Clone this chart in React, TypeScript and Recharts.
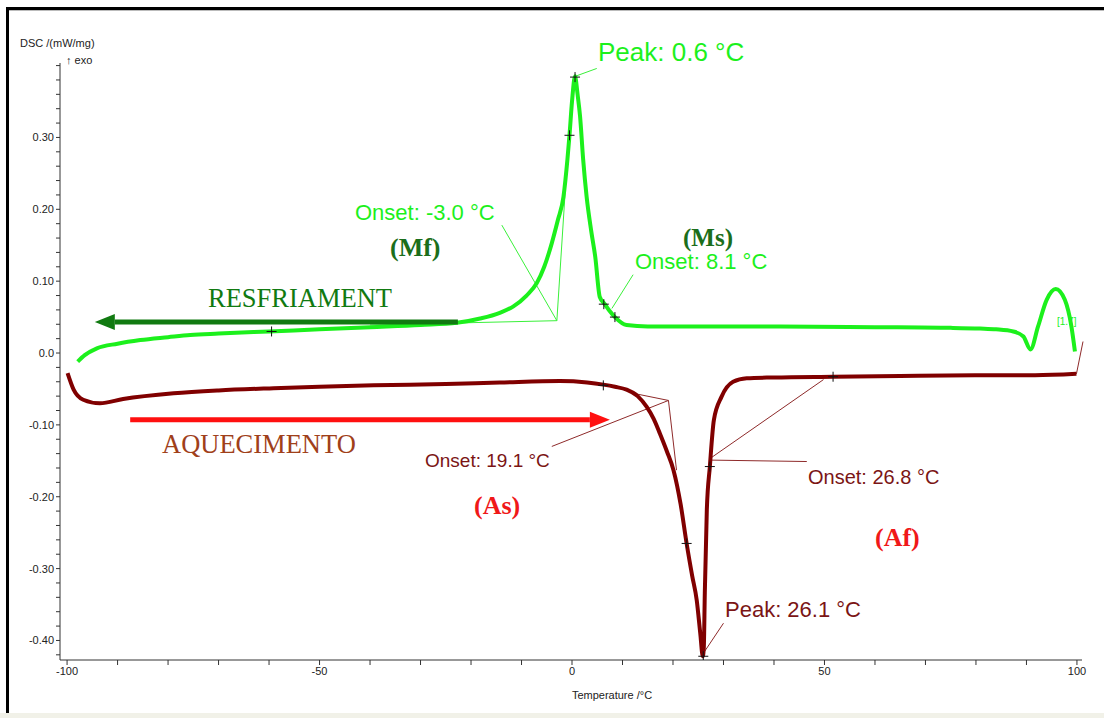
import React from 'react'
import {
  ComposedChart,
  Line,
  Scatter,
  XAxis,
  YAxis,
  ReferenceLine,
} from 'recharts'

// cooling run (green), temperature /°C vs DSC /(mW/mg)
const coolingTemp = [
  -97.9, -96.5, -94.1, -90, -85.5, -80, -75.6, -70, -60, -50, -40, -30, -22.8, -18.2, -14.3, -11.6, -9, -7,
  -5.5, -4, -2.8, -1.7, -0.9, -0.5, 0, 0.6, 1.1, 1.6, 2.2, 2.9, 3.8, 4.6, 5.5, 6.5, 7.5, 8.5, 10.8, 15, 30,
  41.2, 60, 75, 80.8, 84, 87.4, 89.4, 90.8, 92.3, 94, 95.8, 97.6, 98.9, 99.6,
]
const coolingDsc = [
  -0.012, -0.003, 0.0065, 0.013, 0.018, 0.022, 0.025, 0.027, 0.03, 0.033, 0.036, 0.039, 0.042, 0.048, 0.056,
  0.065, 0.08, 0.097, 0.12, 0.153, 0.185, 0.217, 0.27, 0.303, 0.35, 0.385, 0.36, 0.329, 0.27, 0.217, 0.17,
  0.134, 0.078, 0.068, 0.058, 0.05, 0.039, 0.037, 0.037, 0.037, 0.036, 0.035, 0.034, 0.033, 0.03, 0.023,
  0.005, 0.037, 0.074, 0.089, 0.074, 0.037, 0.002,
]

// heating run (dark red)
const heatingTemp = [
  -99.9, -98.7, -96.8, -93.5, -88.9, -78.9, -70, -59.1, -50, -39.3, -25, -14.3, -2.4, 3, 6.2, 8.5, 10.8, 13,
  14.8, 16.2, 17.4, 18.8, 20.1, 21.5, 22.7, 23.8, 24.7, 25.4, 25.9, 26.1, 26.3, 26.7, 27.3, 28.1, 29.6, 31.9,
  34.6, 40, 51.7, 65, 80.8, 91.7, 99.9,
]
const heatingDsc = [
  -0.028, -0.051, -0.065, -0.07, -0.064, -0.056, -0.052, -0.049, -0.047, -0.045, -0.043, -0.041, -0.039,
  -0.041, -0.044, -0.047, -0.051, -0.06, -0.075, -0.092, -0.112, -0.137, -0.163, -0.21, -0.265, -0.31,
  -0.344, -0.39, -0.422, -0.41, -0.334, -0.218, -0.158, -0.093, -0.061, -0.04, -0.035, -0.034, -0.033,
  -0.032, -0.031, -0.031, -0.029,
]

// evaluation markers (+)
const coolingMarks = [
  { t: -59.5, v: 0.03 },
  { t: -0.5, v: 0.303 },
  { t: 0.6, v: 0.384 },
  { t: 6.3, v: 0.068 },
  { t: 8.5, v: 0.05 },
]
const heatingMarks = [
  { t: 6.2, v: -0.045 },
  { t: 22.7, v: -0.265 },
  { t: 26.0, v: -0.422 },
  { t: 27.3, v: -0.158 },
  { t: 51.7, v: -0.033 },
]

// construction / leader lines
const coolingGuides = [
  [{ x: -40, y: 0.039 }, { x: -3.0, y: 0.045 }],
  [{ x: -3.0, y: 0.045 }, { x: -1.3, y: 0.23 }],
  [{ x: -13.9, y: 0.178 }, { x: -3.0, y: 0.045 }],
  [{ x: 12.1, y: 0.109 }, { x: 7.9, y: 0.062 }],
  [{ x: 0.6, y: 0.385 }, { x: 4.9, y: 0.396 }],
]
const heatingGuides = [
  [{ x: 12.1, y: -0.056 }, { x: 19.1, y: -0.066 }],
  [{ x: 19.1, y: -0.066 }, { x: 20.7, y: -0.163 }],
  [{ x: -4.0, y: -0.13 }, { x: 19.1, y: -0.066 }],
  [{ x: 27.3, y: -0.147 }, { x: 49.8, y: -0.037 }],
  [{ x: 27.3, y: -0.149 }, { x: 46.5, y: -0.151 }],
  [{ x: 26.0, y: -0.418 }, { x: 30.0, y: -0.376 }],
  [{ x: 99.9, y: -0.029 }, { x: 101.2, y: 0.016 }],
]

const coolingArrow = [{ x: -22.6, y: 0.043 }, { x: -94.5, y: 0.043 }]
const heatingArrow = [{ x: -87.5, y: -0.093 }, { x: 7.5, y: -0.093 }]

const xTicks = [-100, -90, -80, -70, -60, -50, -40, -30, -20, -10, 0, 10, 20, 30, 40, 50, 60, 70, 80, 90, 100]
const xLabels = [-100, -50, 0, 50, 100]
const yTicks = [
  -0.42, -0.4, -0.38, -0.36, -0.34, -0.32, -0.3, -0.28, -0.26, -0.24, -0.22, -0.2, -0.18, -0.16, -0.14, -0.12,
  -0.1, -0.08, -0.06, -0.04, -0.02, 0, 0.02, 0.04, 0.06, 0.08, 0.1, 0.12, 0.14, 0.16, 0.18, 0.2, 0.22, 0.24,
  0.26, 0.28, 0.3, 0.32, 0.34, 0.36, 0.38, 0.4,
]
const yLabels = [-0.4, -0.3, -0.2, -0.1, 0, 0.1, 0.2, 0.3]

const coolingData = coolingTemp.map((t, i) => ({ t, v: coolingDsc[i] }))
const heatingData = heatingTemp.map((t, i) => ({ t, v: heatingDsc[i] }))

const GREEN = '#1cf01c'
const BROWN = '#800000'
const SANS = '"Liberation Sans", Arial, sans-serif'
const SERIF = '"Liberation Serif", "Times New Roman", serif'

const Cross = (props: any) => {
  const { cx, cy } = props
  if (cx == null || cy == null) return null
  return <path d={`M${cx - 5},${cy}h10M${cx},${cy - 5}v10`} stroke="#111" strokeWidth={1} fill="none" />
}

const arrowShape = (color: string) => (props: any) => {
  const { x1, y1, x2, y2 } = props
  const dir = x2 > x1 ? 1 : -1
  const head = 20
  const baseX = x2 - dir * head
  return (
    <g>
      <line x1={x1} y1={y1} x2={baseX} y2={y2} stroke={color} strokeWidth={5} />
      <polygon points={`${x2},${y2} ${baseX},${y2 - 8} ${baseX},${y2 + 8}`} fill={color} />
    </g>
  )
}

const fmtX = (v: number) => (xLabels.includes(v) ? String(v) : '')
const fmtY = (v: number) => {
  const r = Math.round(v * 100) / 100
  if (!yLabels.some((l) => Math.abs(l - r) < 1e-6)) return ''
  return r === 0 ? '0.0' : r.toFixed(2)
}

export default function App() {
  return (
    <div style={{ position: 'relative', width: 1104, height: 718, background: '#fff', overflow: 'hidden' }}>
      <style>{`body{margin:0}`}</style>
      <div style={{ position: 'absolute', left: 6, top: 7, width: 1098, height: 3, background: '#000' }} />
      <div style={{ position: 'absolute', left: 9, top: 10, width: 1095, height: 1, background: '#bbb' }} />
      <div style={{ position: 'absolute', left: 6, top: 7, width: 3, height: 706, background: '#000' }} />
      <div style={{ position: 'absolute', left: 0, top: 713, width: 1104, height: 5, background: '#f1f1e8' }} />

      <ComposedChart
        width={1104}
        height={718}
        margin={{ top: 63, right: 22, bottom: 28, left: 10 }}
        style={{ position: 'absolute', left: 0, top: 0 }}
      >
        <XAxis
          type="number"
          dataKey="t"
          domain={[-101.4, 101]}
          ticks={xTicks}
          tickFormatter={fmtX}
          interval={0}
          allowDataOverflow
          height={30}
          stroke="#333"
          tickSize={5}
          tick={{ fontSize: 11, fill: '#222', fontFamily: SANS }}
        />
        <YAxis
          type="number"
          dataKey="v"
          domain={[-0.4272, 0.4036]}
          ticks={yTicks}
          tickFormatter={fmtY}
          interval={0}
          allowDataOverflow
          width={50}
          stroke="#333"
          tickSize={4}
          tick={{ fontSize: 11, fill: '#222', fontFamily: SANS }}
        />

        {coolingGuides.map((seg, i) => (
          <ReferenceLine key={`cg${i}`} segment={seg} stroke="#3af03a" strokeWidth={1} ifOverflow="visible" />
        ))}
        {heatingGuides.map((seg, i) => (
          <ReferenceLine key={`hg${i}`} segment={seg} stroke="#8e2a2a" strokeWidth={1} ifOverflow="visible" />
        ))}

        <Line
          data={coolingData}
          dataKey="v"
          type="monotone"
          stroke={GREEN}
          strokeWidth={4}
          dot={false}
          isAnimationActive={false}
        />
        <Line
          data={heatingData}
          dataKey="v"
          type="monotone"
          stroke={BROWN}
          strokeWidth={4}
          dot={false}
          isAnimationActive={false}
        />

        <ReferenceLine segment={coolingArrow} shape={arrowShape('#117a11')} ifOverflow="visible" />
        <ReferenceLine segment={heatingArrow} shape={arrowShape('#ff1010')} ifOverflow="visible" />

        <Scatter data={coolingMarks} dataKey="v" shape={Cross} isAnimationActive={false} />
        <Scatter data={heatingMarks} dataKey="v" shape={Cross} isAnimationActive={false} />
      </ComposedChart>

      <svg width={1104} height={718} style={{ position: 'absolute', left: 0, top: 0, pointerEvents: 'none' }}>
        <text x={20} y={47} fontFamily={SANS} fontSize={11} fill="#222">DSC /(mW/mg)</text>
        <text x={66} y={64} fontFamily={SANS} fontSize={11} fill="#222">↑ exo</text>
        <text x={612} y={699} fontFamily={SANS} fontSize={11} fill="#222" textAnchor="middle">Temperature /°C</text>

        <text x={598} y={61} fontFamily={SANS} fontSize={26} fill={GREEN}>Peak: 0.6 °C</text>
        <text x={355} y={220} fontFamily={SANS} fontSize={22} fill={GREEN}>Onset: -3.0 °C</text>
        <text x={635} y={269} fontFamily={SANS} fontSize={22} fill={GREEN}>Onset: 8.1 °C</text>
        <text x={1057} y={325} fontFamily={SANS} fontSize={10} fill={GREEN}>[1.7]</text>

        <text x={390} y={256} fontFamily={SERIF} fontSize={26} fontWeight="bold" fill="#1b6e1b">(Mf)</text>
        <text x={683} y={246} fontFamily={SERIF} fontSize={25} fontWeight="bold" fill="#1b6e1b">(Ms)</text>
        <text x={208} y={307} fontFamily={SERIF} fontSize={26.5} fill="#117a11">RESFRIAMENT</text>

        <text x={162} y={453} fontFamily={SERIF} fontSize={26.5} fill="#a0401a">AQUECIMENTO</text>
        <text x={474} y={514} fontFamily={SERIF} fontSize={26} fontWeight="bold" fill="#f01818">(As)</text>
        <text x={875} y={546} fontFamily={SERIF} fontSize={26} fontWeight="bold" fill="#f01818">(Af)</text>

        <text x={425} y={467} fontFamily={SANS} fontSize={19} fill="#7b1515">Onset: 19.1 °C</text>
        <text x={808} y={484} fontFamily={SANS} fontSize={20} fill="#7b1515">Onset: 26.8 °C</text>
        <text x={725} y={617} fontFamily={SANS} fontSize={22} fill="#7b1515">Peak: 26.1 °C</text>
      </svg>
    </div>
  )
}
